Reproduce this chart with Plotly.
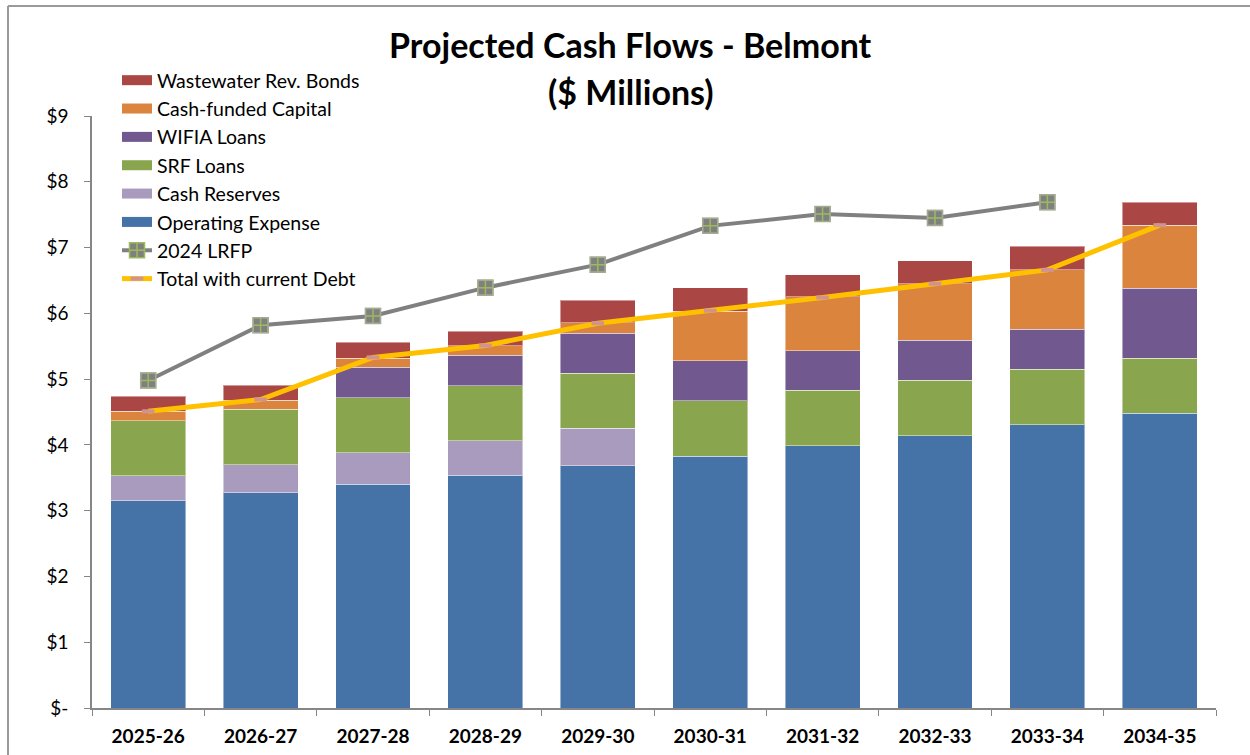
import plotly.graph_objects as go

# Fiscal years
categories = ["2025-26", "2026-27", "2027-28", "2028-29", "2029-30",
              "2030-31", "2031-32", "2032-33", "2033-34", "2034-35"]

# Stacked components ($ millions)
operating_expense = [3.15, 3.27, 3.40, 3.54, 3.68, 3.83, 3.99, 4.14, 4.31, 4.48]
cash_reserves = [0.38, 0.43, 0.48, 0.52, 0.57, None, None, None, None, None]
srf_loans = [0.84, 0.84, 0.84, 0.84, 0.84, 0.84, 0.84, 0.84, 0.84, 0.84]
wifia_loans = [None, None, 0.46, 0.46, 0.61, 0.61, 0.60, 0.61, 0.61, 1.06]
cash_funded_capital = [0.14, 0.14, 0.14, 0.15, 0.16, 0.75, 0.82, 0.86, 0.90, 0.96]
wastewater_rev_bonds = [0.23, 0.23, 0.24, 0.22, 0.34, 0.36, 0.34, 0.35, 0.36, 0.35]

# Comparison lines ($ millions)
lrfp_2024 = [4.98, 5.82, 5.96, 6.39, 6.74, 7.33, 7.51, 7.45, 7.69, None]
total_current_debt = [4.51, 4.69, 5.33, 5.51, 5.85, 6.04, 6.24, 6.45, 6.66, 7.34]

# Axis ticks
y_tickvals = [0, 1, 2, 3, 4, 5, 6, 7, 8, 9]
y_ticktext = ["$-", "$1", "$2", "$3", "$4", "$5", "$6", "$7", "$8", "$9"]

FONT = "Lato"
bar_outline = dict(color="rgba(255,255,255,0.45)", width=1)

fig = go.Figure()

stack = [
    ("Operating Expense", operating_expense, "#4572A7", 6),
    ("Cash Reserves", cash_reserves, "#A99BBD", 5),
    ("SRF Loans", srf_loans, "#89A54E", 4),
    ("WIFIA Loans", wifia_loans, "#71588F", 3),
    ("Cash-funded Capital", cash_funded_capital, "#DB843D", 2),
    ("Wastewater Rev. Bonds", wastewater_rev_bonds, "#AA4643", 1),
]
for name, vals, color, rank in stack:
    fig.add_trace(go.Bar(
        x=categories, y=vals, name=name,
        marker=dict(color=color, line=bar_outline),
        showlegend=False, legendgroup=name,
    ))
    # wide rectangular legend swatch for the series
    fig.add_trace(go.Scatter(
        x=[None], y=[None], name=name, mode="lines",
        line=dict(color=color, width=13),
        legendrank=rank, legendgroup=name, hoverinfo="skip",
    ))

fig.add_trace(go.Scatter(
    x=categories, y=lrfp_2024, name="2024 LRFP", mode="lines+markers",
    line=dict(color="#808080", width=4),
    marker=dict(symbol="square-cross", size=15, color="#808080",
                line=dict(color="#9BBB59", width=1.5)),
    legendrank=7, legendgroup="lrfp",
))
fig.add_trace(go.Scatter(
    x=categories, y=lrfp_2024, mode="markers", showlegend=False,
    hoverinfo="skip",
    marker=dict(symbol="square-open", size=15, color="#A6A6A6",
                line=dict(color="#A6A6A6", width=1.2)),
))
fig.add_trace(go.Scatter(
    x=categories, y=total_current_debt, name="Total with current Debt",
    mode="lines+markers",
    line=dict(color="#FFC000", width=5),
    marker=dict(symbol="line-ew", size=9, color="#D19392",
                line=dict(color="#D19392", width=4)),
    legendrank=8, legendgroup="total",
))

L, R, T, B = 92, 34, 116, 47
W, H = 1250, 755
pw, ph = W - L - R, H - T - B

def px_x(x):
    return (x - L) / pw

def px_y(y):
    return (H - B - y) / ph

fig.update_layout(
    width=W, height=H,
    margin=dict(l=L, r=R, t=T, b=B),
    barmode="stack", bargap=0.333,
    paper_bgcolor="white", plot_bgcolor="white",
    font=dict(family=FONT, color="black"),
    showlegend=True,
    legend=dict(
        x=px_x(117), y=px_y(61), xanchor="left", yanchor="top",
        font=dict(size=19.5, family=FONT),
        bgcolor="rgba(0,0,0,0)", traceorder="normal",
    ),
    xaxis=dict(
        type="category", range=[-0.5, 9.5], showgrid=False, showline=True,
        linecolor="#868686", linewidth=1.5, automargin=False,
        ticks="outside", ticklen=6, tickcolor="#868686", tickson="boundaries",
        ticklabelstandoff=10,
        tickfont=dict(size=19, family=FONT, color="black", weight="bold"),
    ),
    yaxis=dict(
        range=[0, 9], showgrid=False, zeroline=False, showline=True,
        linecolor="#868686", linewidth=1.5, automargin=False,
        ticks="outside", ticklen=6, tickcolor="#868686",
        tickvals=y_tickvals, ticktext=y_ticktext, ticklabelstandoff=12,
        tickfont=dict(size=19, family=FONT, color="black"),
    ),
    annotations=[
        dict(text="<b>Projected Cash Flows - Belmont</b>", xref="paper", yref="paper",
             x=px_x(630), y=px_y(45), xanchor="center", yanchor="middle",
             showarrow=False, font=dict(size=34, family=FONT)),
        dict(text="<b>($ Millions)</b>", xref="paper", yref="paper",
             x=px_x(631), y=px_y(92), xanchor="center", yanchor="middle",
             showarrow=False, font=dict(size=34, family=FONT)),
    ],
    shapes=[
        dict(type="line", xref="paper", yref="paper",
             x0=px_x(8), x1=px_x(1260), y0=px_y(6), y1=px_y(6),
             line=dict(color="#9A9A9A", width=2)),
        dict(type="line", xref="paper", yref="paper",
             x0=px_x(8), x1=px_x(8), y0=px_y(6), y1=px_y(765),
             line=dict(color="#9A9A9A", width=2)),
    ],
)

fig.write_html("out.html")
